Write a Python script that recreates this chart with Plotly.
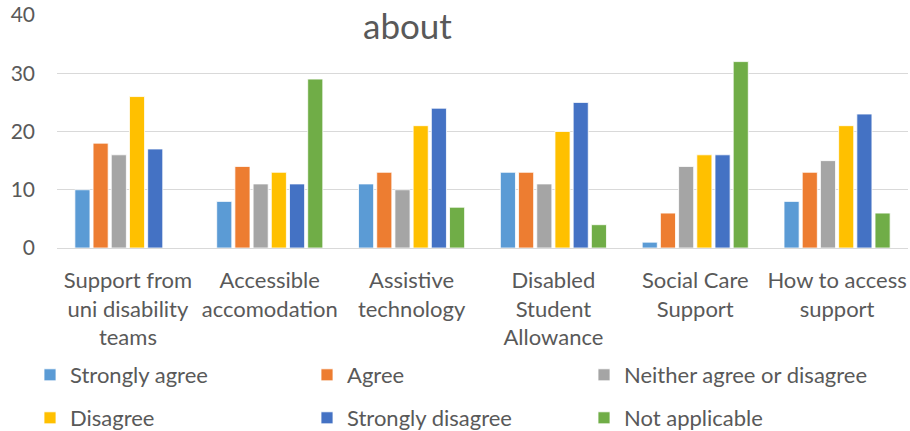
import plotly.graph_objects as go

categories = ["Support from<br>uni disability<br>teams", "Accessible<br>accomodation", "Assistive<br>technology",
              "Disabled<br>Student<br>Allowance", "Social Care<br>Support", "How to access<br>support"]
series_names = ["Strongly agree", "Agree", "Neither agree or disagree",
                "Disagree", "Strongly disagree", "Not applicable"]
strongly_agree = [10, 8, 11, 13, 1, 8]
agree = [18, 14, 13, 13, 6, 13]
neither = [16, 11, 10, 11, 14, 15]
disagree = [26, 13, 21, 20, 16, 21]
strongly_disagree = [17, 11, 24, 25, 16, 23]
not_applicable = [0, 29, 7, 4, 32, 6]
series_values = [strongly_agree, agree, neither, disagree, strongly_disagree, not_applicable]
colors = ["#5B9BD5", "#ED7D31", "#A5A5A5", "#FFC000", "#4472C4", "#70AD47"]

FONT = "Lato"
L, T, B = 57, 15, 183
PW, PH = 910 - L - 2, 431 - T - B

# legend layout (pixel positions of each legend box: left x, centre y)
legend_px = [(30, 375), (307, 375), (584, 375), (30, 418), (307, 418), (584, 418)]

fig = go.Figure()
layout_legends = {}
for i, (name, vals, color) in enumerate(zip(series_names, series_values, colors)):
    lg = "legend" if i == 0 else f"legend{i + 1}"
    fig.add_trace(go.Bar(x=categories, y=vals, name=name, legend=lg, showlegend=True,
                         marker=dict(color=color, line=dict(color="white", width=0.8))))
    px, py = legend_px[i]
    layout_legends[lg] = dict(orientation="h", font=dict(family=FONT, size=22, color="#595959"),
                              xanchor="left", yanchor="middle", bgcolor="rgba(0,0,0,0)",
                              itemwidth=30,
                              x=(px - L) / PW, y=-(py - (T + PH)) / PH)

fig.update_layout(
    width=910, height=431,
    showlegend=True,
    margin=dict(l=L, r=2, t=T, b=B, autoexpand=False),
    plot_bgcolor="white", paper_bgcolor="white",
    barmode="group", bargap=0.23, bargroupgap=0.17,
    font=dict(family=FONT, color="#595959"),
    xaxis=dict(tickfont=dict(family=FONT, size=22, color="#595959"), showline=False, ticks="",
               ticklabelstandoff=17),
    yaxis=dict(range=[0, 40], dtick=10, showgrid=True, gridcolor="#D9D9D9", gridwidth=1,
               zeroline=True, zerolinecolor="#D9D9D9", zerolinewidth=1,
               tickfont=dict(family=FONT, size=21, color="#595959"), ticklabelstandoff=21),
    annotations=[dict(text="about", x=(407 - L) / PW, y=((T + PH) - 25) / PH,
                      xref="paper", yref="paper", showarrow=False,
                      xanchor="center", yanchor="middle",
                      font=dict(family=FONT, size=35, color="#595959"))],
    **layout_legends,
)
fig.write_html("out.html")
